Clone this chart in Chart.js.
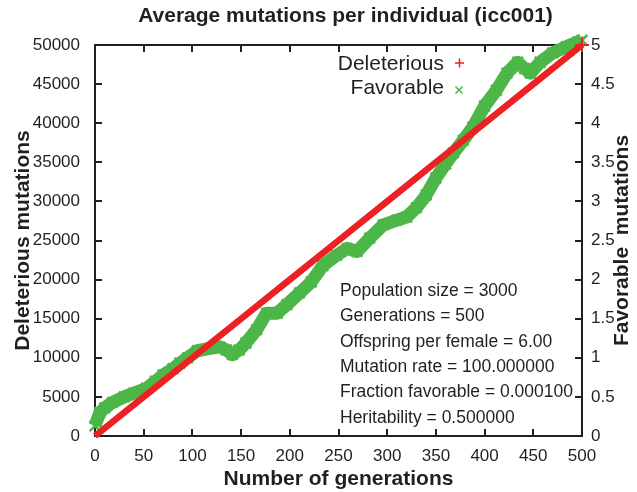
<!DOCTYPE html>
<html>
<head>
<meta charset="utf-8">
<script src="https://cdn.jsdelivr.net/npm/chart.js@4.4.1/dist/chart.umd.min.js"></script>
<style>
    html, body { margin: 0; padding: 0; background: #fff; }
    #wrap { width: 637px; height: 492px; }
</style>
</head>
<body>
<div id="wrap"><canvas id="chart" width="637" height="492"></canvas></div>
<script>
// deleterious mutations (left axis)
const delGenerations = [0, 50, 100, 150, 200, 250, 300, 350, 400, 450, 500];
const delValues = [0, 5000, 10000, 15000, 20000, 25000, 30000, 35000, 40000, 45000, 50000];

// favorable mutations (right axis)
const favGenerations = [0, 5, 10, 18, 30, 40, 53, 62, 70, 80, 87, 95, 105, 118, 128, 135, 141, 148, 155, 166,
    176, 187, 197, 210, 222, 234, 248, 259, 269, 282, 296, 310, 320, 330, 340, 350, 360, 368, 378, 388,
    400, 412, 423, 434, 441, 447, 457, 470, 484, 496, 500];
const favValues = [0.13, 0.30, 0.36, 0.43, 0.50, 0.55, 0.61, 0.70, 0.78, 0.86, 0.93, 1.00, 1.09, 1.12, 1.14, 1.10, 1.04, 1.10, 1.19, 1.36,
    1.57, 1.57, 1.68, 1.83, 1.97, 2.18, 2.31, 2.40, 2.36, 2.53, 2.70, 2.76, 2.80, 2.92, 3.08, 3.30, 3.48, 3.62, 3.78, 3.95,
    4.22, 4.42, 4.64, 4.78, 4.70, 4.64, 4.78, 4.90, 4.98, 5.04, 5.06];

const seriesNames = ['Deleterious', 'Favorable'];
const paramLines = [
    'Population size = 3000',
    'Generations = 500',
    'Offspring per female = 6.00',
    'Mutation rate = 100.000000',
    'Fraction favorable = 0.000100',
    'Heritability = 0.500000',
];

const RED = '#ed2024';
const GREEN = '#4cb748';
const INK = '#231f20';
const FONT = '"Liberation Sans", Arial, Helvetica, sans-serif';

const toPoints = (xs, ys) => xs.map((x, i) => ({ x, y: ys[i] }));

const framePlugin = {
    id: 'frame',
    beforeDatasetsDraw(chart) {
        const { ctx, chartArea: a, scales } = chart;
        ctx.save();
        ctx.strokeStyle = INK;
        ctx.lineWidth = 2;
        ctx.strokeRect(a.left, a.top, a.right - a.left, a.bottom - a.top);
        ctx.beginPath();
        scales.x.ticks.forEach((t) => {
            const px = Math.round(scales.x.getPixelForValue(t.value));
            ctx.moveTo(px, a.bottom);
            ctx.lineTo(px, a.bottom - 7);
            ctx.moveTo(px, a.top);
            ctx.lineTo(px, a.top + 7);
        });
        scales.y.ticks.forEach((t) => {
            const py = Math.round(scales.y.getPixelForValue(t.value));
            ctx.moveTo(a.left, py);
            ctx.lineTo(a.left + 7, py);
        });
        scales.y2.ticks.forEach((t) => {
            const py = Math.round(scales.y2.getPixelForValue(t.value));
            ctx.moveTo(a.right, py);
            ctx.lineTo(a.right - 7, py);
        });
        ctx.stroke();
        ctx.restore();
    },
    afterDraw(chart) {
        const { ctx, chartArea: a } = chart;
        ctx.save();
        ctx.fillStyle = INK;

        // title
        ctx.font = 'bold 21px ' + FONT;
        ctx.textAlign = 'center';
        ctx.textBaseline = 'middle';
        ctx.fillText('Average mutations per individual (icc001)', (a.left + a.right) / 2 + 7, 16);

        // right axis title, reading upwards like the left one
        ctx.save();
        ctx.translate(622, (a.top + a.bottom) / 2);
        ctx.rotate(-Math.PI / 2);
        ctx.fillText('Favorable  mutations', 0, 0);
        ctx.restore();

        // legend
        ctx.font = '21px ' + FONT;
        ctx.textAlign = 'right';
        ctx.fillText(seriesNames[0], 444, 64);
        ctx.fillText(seriesNames[1], 444, 88);
        ctx.lineWidth = 1.5;
        ctx.strokeStyle = RED;
        ctx.beginPath();
        ctx.moveTo(455, 63); ctx.lineTo(464, 63);
        ctx.moveTo(459.5, 58.5); ctx.lineTo(459.5, 67.5);
        ctx.stroke();
        ctx.strokeStyle = GREEN;
        ctx.beginPath();
        ctx.moveTo(455.5, 86.5); ctx.lineTo(462.5, 93.5);
        ctx.moveTo(462.5, 86.5); ctx.lineTo(455.5, 93.5);
        ctx.stroke();

        // run parameters
        ctx.font = '17.5px ' + FONT;
        ctx.textAlign = 'left';
        paramLines.forEach((line, i) => ctx.fillText(line, 340, 291 + i * 25.4));
        ctx.restore();
    },
};

const tickFont = { family: FONT, size: 17 };
const titleFont = { family: FONT, size: 21, weight: 'bold' };

new Chart(document.getElementById('chart'), {
    type: 'scatter',
    data: {
        datasets: [
            {
                label: seriesNames[0],
                data: toPoints(delGenerations, delValues),
                yAxisID: 'y',
                showLine: true,
                borderColor: RED,
                backgroundColor: RED,
                borderWidth: 6.5,
                pointStyle: 'cross',
                pointRadius: delValues.map((v, i) => (i === delValues.length - 1 ? 7 : 0)),
                pointBorderWidth: 2,
                clip: false,
                order: 1,
            },
            {
                label: seriesNames[1],
                data: toPoints(favGenerations, favValues),
                yAxisID: 'y2',
                showLine: true,
                borderColor: GREEN,
                backgroundColor: GREEN,
                borderWidth: 13,
                borderJoinStyle: 'round',
                pointStyle: 'crossRot',
                pointRadius: 7.5,
                pointBorderWidth: 2.5,
                clip: false,
                order: 2,
            },
        ],
    },
    options: {
        responsive: false,
        animation: false,
        layout: { padding: { top: 45, left: 0, right: 0, bottom: 0 } },
        plugins: { legend: { display: false }, tooltip: { enabled: false } },
        scales: {
            x: {
                type: 'linear',
                min: 0,
                max: 500,
                grid: { display: false },
                border: { display: false },
                ticks: { stepSize: 50, font: tickFont, color: INK, padding: 2, maxRotation: 0 },
                title: { display: true, text: 'Number of generations', font: titleFont, color: INK, padding: { top: 0, bottom: 0 } },
                afterFit: (scale) => { scale.height = 56; },
            },
            y: {
                position: 'left',
                min: 0,
                max: 50000,
                grid: { display: false },
                border: { display: false },
                ticks: { stepSize: 5000, font: tickFont, color: INK, padding: 7, callback: (v) => String(v) },
                title: { display: true, text: 'Deleterious mutations', font: titleFont, color: INK, padding: { top: 11, bottom: 0 } },
                afterFit: (scale) => { scale.width = 95; },
            },
            y2: {
                position: 'right',
                min: 0,
                max: 5,
                grid: { display: false },
                border: { display: false },
                ticks: { stepSize: 0.5, font: tickFont, color: INK, padding: 1, callback: (v) => String(v) },
                afterFit: (scale) => { scale.width = 55; },
            },
        },
    },
    plugins: [framePlugin],
});
</script>
</body>
</html>
